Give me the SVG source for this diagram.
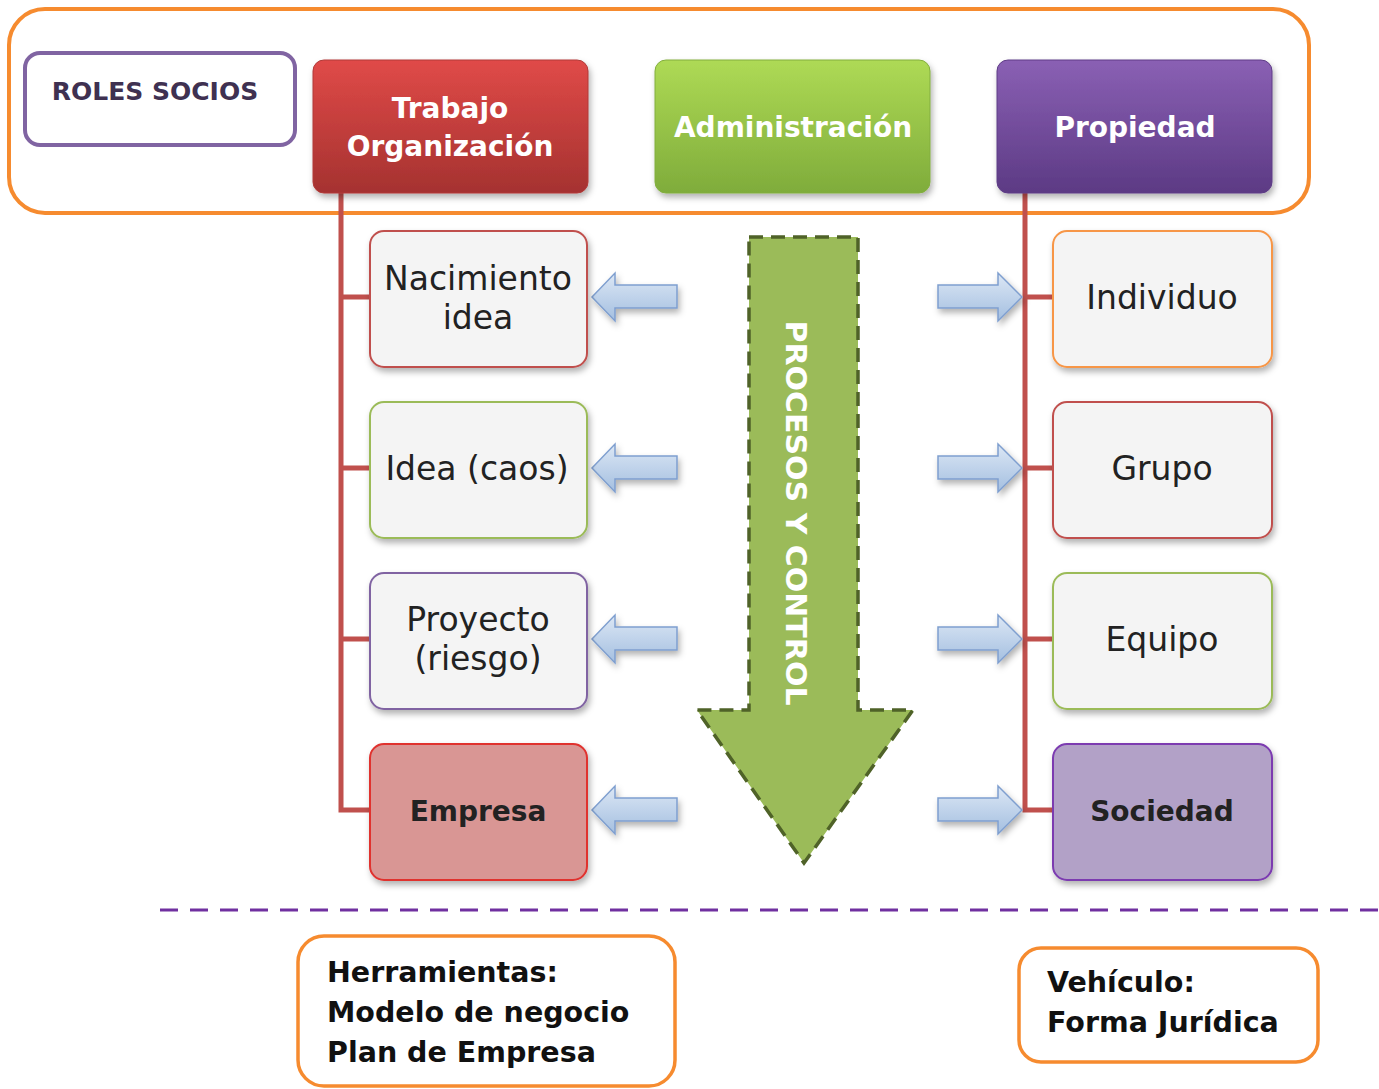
<svg xmlns="http://www.w3.org/2000/svg" width="1379" height="1089" viewBox="0 0 1379 1089">
<style>
.lbl{font-family:"DejaVu Sans","Liberation Sans",sans-serif;font-size:33px;fill:#222;text-anchor:middle}
.bold{font-weight:bold;font-size:28px}
.top{font-family:"DejaVu Sans","Liberation Sans",sans-serif;font-size:28px;font-weight:bold;fill:#fff;text-anchor:middle}
.note{font-family:"DejaVu Sans","Liberation Sans",sans-serif;font-size:28.5px;font-weight:bold;fill:#111}
.box{fill:#f4f4f4;stroke-width:2}
.conn{fill:none;stroke:#C0504D;stroke-width:5}
.barrow{fill:url(#gBlue);stroke:#7F9FCF;stroke-width:1.5;filter:url(#sh)}
</style>
<defs>
<linearGradient id="gRed" x1="0" y1="0" x2="0" y2="1"><stop offset="0" stop-color="#E04A48"/><stop offset="1" stop-color="#A53230"/></linearGradient>
<linearGradient id="gGreen" x1="0" y1="0" x2="0" y2="1"><stop offset="0" stop-color="#AEDA55"/><stop offset="1" stop-color="#7FAC3B"/></linearGradient>
<linearGradient id="gPurple" x1="0" y1="0" x2="0" y2="1"><stop offset="0" stop-color="#8A60B4"/><stop offset="1" stop-color="#5C3A84"/></linearGradient>
<linearGradient id="gBlue" x1="0" y1="0" x2="0" y2="1"><stop offset="0" stop-color="#DCE7F5"/><stop offset="1" stop-color="#A4BFE0"/></linearGradient>
<filter id="sh" x="-10%" y="-10%" width="130%" height="140%"><feDropShadow dx="2" dy="4" stdDeviation="3" flood-color="#000" flood-opacity="0.3"/></filter>
</defs>

<g id="outer-frame"><rect x="9" y="9" width="1300" height="204" rx="36" fill="none" stroke="#F68B2F" stroke-width="4"/></g>

<g id="connectors">
<path class="conn" d="M341 190 V810 H371 M341 297 H371 M341 468 H371 M341 639 H371"/>
<path class="conn" d="M1025 190 V810 H1054 M1025 297 H1054 M1025 468 H1054 M1025 639 H1054"/>
<path class="barrow" d="M592 297 L615 273 L615 285 L677 285 L677 308 L615 308 L615 321 Z"/>
<path class="barrow" d="M592 468 L615 444 L615 456 L677 456 L677 479 L615 479 L615 492 Z"/>
<path class="barrow" d="M592 639 L615 615 L615 627 L677 627 L677 650 L615 650 L615 663 Z"/>
<path class="barrow" d="M592 810 L615 786 L615 798 L677 798 L677 821 L615 821 L615 834 Z"/>
<path class="barrow" d="M1022 297 L998 273 L998 285 L938 285 L938 308 L998 308 L998 321 Z"/>
<path class="barrow" d="M1022 468 L998 444 L998 456 L938 456 L938 479 L998 479 L998 492 Z"/>
<path class="barrow" d="M1022 639 L998 615 L998 627 L938 627 L938 650 L998 650 L998 663 Z"/>
<path class="barrow" d="M1022 810 L998 786 L998 798 L938 798 L938 821 L998 821 L998 834 Z"/>
</g>

<g id="roles-socios"><rect x="25" y="53" width="270" height="92" rx="15" fill="#fff" stroke="#8064A2" stroke-width="4"/><text x="155" y="100" font-family="DejaVu Sans,Liberation Sans,sans-serif" font-size="25" font-weight="bold" fill="#3F3151" text-anchor="middle">ROLES SOCIOS</text></g>

<g id="trabajo"><rect x="313" y="60" width="275" height="133" rx="11" fill="url(#gRed)" stroke="#B03A38" stroke-width="1" filter="url(#sh)"/><text class="top" x="450" y="118">Trabajo</text><text class="top" x="450" y="156">Organización</text></g>
<g id="administracion"><rect x="655" y="60" width="275" height="133" rx="11" fill="url(#gGreen)" stroke="#82AE3E" stroke-width="1" filter="url(#sh)"/><text class="top" x="793" y="137">Administración</text></g>
<g id="propiedad"><rect x="997" y="60" width="275" height="133" rx="11" fill="url(#gPurple)" stroke="#5E3C86" stroke-width="1" filter="url(#sh)"/><text class="top" x="1135" y="137">Propiedad</text></g>

<g id="nacimiento"><rect class="box" x="370" y="231" width="217" height="136" rx="14" stroke="#C0504D" filter="url(#sh)"/><text class="lbl" x="478" y="290">Nacimiento</text><text class="lbl" x="478" y="329">idea</text></g>
<g id="idea"><rect class="box" x="370" y="402" width="217" height="136" rx="14" stroke="#9BBB59" filter="url(#sh)"/><text class="lbl" x="477" y="480">Idea (caos)</text></g>
<g id="proyecto"><rect class="box" x="370" y="573" width="217" height="136" rx="14" stroke="#8064A2" filter="url(#sh)"/><text class="lbl" x="478" y="631">Proyecto</text><text class="lbl" x="478" y="670">(riesgo)</text></g>
<g id="empresa"><rect x="370" y="744" width="217" height="136" rx="14" fill="#D99694" stroke="#E0312E" stroke-width="2" filter="url(#sh)"/><text class="lbl bold" x="478" y="821">Empresa</text></g>

<g id="individuo"><rect class="box" x="1053" y="231" width="219" height="136" rx="14" stroke="#F79646" filter="url(#sh)"/><text class="lbl" x="1162" y="309">Individuo</text></g>
<g id="grupo"><rect class="box" x="1053" y="402" width="219" height="136" rx="14" stroke="#C0504D" filter="url(#sh)"/><text class="lbl" x="1162" y="480">Grupo</text></g>
<g id="equipo"><rect class="box" x="1053" y="573" width="219" height="136" rx="14" stroke="#9BBB59" filter="url(#sh)"/><text class="lbl" x="1162" y="651">Equipo</text></g>
<g id="sociedad"><rect x="1053" y="744" width="219" height="136" rx="14" fill="#B2A1C7" stroke="#7B3BB0" stroke-width="2" filter="url(#sh)"/><text class="lbl bold" x="1162" y="821">Sociedad</text></g>

<g id="procesos-control">
<path d="M749 237 H858 V710 H913 L804 863 L697 710 H749 Z" fill="#9BBB59" stroke="#4F6228" stroke-width="3.5" stroke-dasharray="14 8"/>
<text transform="translate(786 513) rotate(90)" font-family="DejaVu Sans,Liberation Sans,sans-serif" font-size="28" font-weight="bold" fill="#fff" text-anchor="middle" textLength="385" lengthAdjust="spacingAndGlyphs">PROCESOS Y CONTROL</text>
</g>

<g id="separator"><line x1="160" y1="910" x2="1379" y2="910" stroke="#7030A0" stroke-width="3" stroke-dasharray="18 12"/></g>

<g id="herramientas"><rect x="298" y="936" width="377" height="150" rx="26" fill="#fff" stroke="#F68B2F" stroke-width="3.5"/><text class="note" x="327" y="982">Herramientas:</text><text class="note" x="327" y="1022">Modelo de negocio</text><text class="note" x="327" y="1062">Plan de Empresa</text></g>
<g id="vehiculo"><rect x="1019" y="948" width="299" height="114" rx="22" fill="#fff" stroke="#F68B2F" stroke-width="3.5"/><text class="note" x="1047" y="992">Vehículo:</text><text class="note" x="1047" y="1032">Forma Jurídica</text></g>
</svg>
